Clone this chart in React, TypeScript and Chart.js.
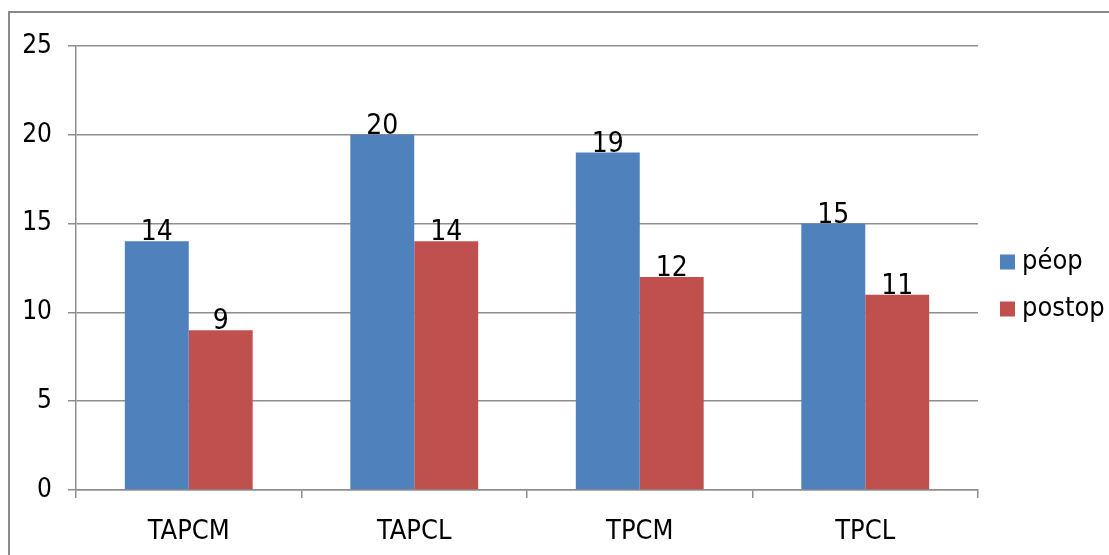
import React, { useEffect, useRef } from "react";
import { Chart, registerables } from "chart.js";

Chart.register(...registerables);

const categories = ["TAPCM", "TAPCL", "TPCM", "TPCL"];
const seriesNames = ["péop", "postop"];
const preopValues = [14, 20, 19, 15];
const postopValues = [9, 14, 12, 11];
const seriesColors = ["#4F81BD", "#C0504D"];
const yTicks = [0, 5, 10, 15, 20, 25];

const FONT = '"Liberation Sans Narrow", "Arial Narrow", "DejaVu Sans Condensed", sans-serif';
const GRID = "#8e8e8e";

const frame = {
  id: "frame",
  beforeDraw(chart: any) {
    const ctx = chart.ctx;
    ctx.save();
    ctx.fillStyle = "#fff";
    ctx.fillRect(0, 0, chart.width, chart.height);
    ctx.strokeStyle = "#8a8a8a";
    ctx.lineWidth = 2;
    ctx.beginPath();
    ctx.moveTo(9, chart.height);
    ctx.lineTo(9, 12);
    ctx.lineTo(chart.width, 12);
    ctx.stroke();
    ctx.restore();
  },
};

const valueLabels = {
  id: "valueLabels",
  afterDatasetsDraw(chart: any) {
    const ctx = chart.ctx;
    ctx.save();
    ctx.font = `28px ${FONT}`;
    ctx.fillStyle = "#000";
    ctx.textAlign = "center";
    ctx.textBaseline = "alphabetic";
    chart.data.datasets.forEach((ds: any, i: number) => {
      const meta = chart.getDatasetMeta(i);
      meta.data.forEach((el: any, j: number) => {
        ctx.fillText(String(ds.data[j]), el.x, el.y - 1);
      });
    });
    ctx.restore();
  },
};

const sideLegend = {
  id: "sideLegend",
  afterDraw(chart: any) {
    const ctx = chart.ctx;
    const area = chart.chartArea;
    ctx.save();
    ctx.font = `27px ${FONT}`;
    ctx.textBaseline = "middle";
    ctx.textAlign = "left";
    chart.data.datasets.forEach((ds: any, i: number) => {
      const cy = area.top + 216 + i * 47;
      const x0 = area.right + 22;
      ctx.fillStyle = ds.backgroundColor;
      ctx.fillRect(x0, cy - 7.5, 15, 15);
      ctx.fillStyle = "#000";
      ctx.fillText(ds.label, x0 + 22, cy);
    });
    ctx.restore();
  },
};

export default function App() {
  const ref = useRef<HTMLCanvasElement>(null);
  useEffect(() => {
    document.body.style.margin = "0";
    const chart = new Chart(ref.current!, {
      type: "bar",
      data: {
        labels: categories,
        datasets: [
          { label: seriesNames[0], data: preopValues, backgroundColor: seriesColors[0] },
          { label: seriesNames[1], data: postopValues, backgroundColor: seriesColors[1] },
        ],
      },
      options: {
        animation: false,
        responsive: false,
        devicePixelRatio: 1,
        layout: { padding: { left: 0, top: 46, right: 131, bottom: 0 } },
        datasets: { bar: { categoryPercentage: 0.567, barPercentage: 1 } },
        plugins: { legend: { display: false }, tooltip: { enabled: false } },
        scales: {
          x: {
            offset: true,
            afterFit(scale: any) {
              scale.height = 65;
            },
            grid: { drawOnChartArea: false, drawTicks: true, tickLength: 8, color: GRID, lineWidth: 1.5, offset: true },
            border: { display: true, color: GRID, width: 1.5 },
            ticks: { color: "#000", font: { family: FONT, size: 27 }, padding: 18 },
          },
          y: {
            min: 0,
            max: 25,
            afterFit(scale: any) {
              scale.width = 76;
            },
            afterBuildTicks(scale: any) {
              scale.ticks = yTicks.map((v) => ({ value: v }));
            },
            grid: { color: GRID, lineWidth: 1.5, tickLength: 8, drawTicks: true },
            border: { display: true, color: GRID, width: 1.5 },
            ticks: { color: "#000", font: { family: FONT, size: 26 }, padding: 16 },
          },
        },
      },
      plugins: [frame, valueLabels, sideLegend],
    });
    return () => chart.destroy();
  }, []);

  return (
    <div style={{ position: "fixed", left: 0, top: 0, width: 1109, height: 555, overflow: "hidden", background: "#fff" }}>
      <canvas ref={ref} width={1109} height={555} style={{ display: "block", width: 1109, height: 555 }} />
    </div>
  );
}
